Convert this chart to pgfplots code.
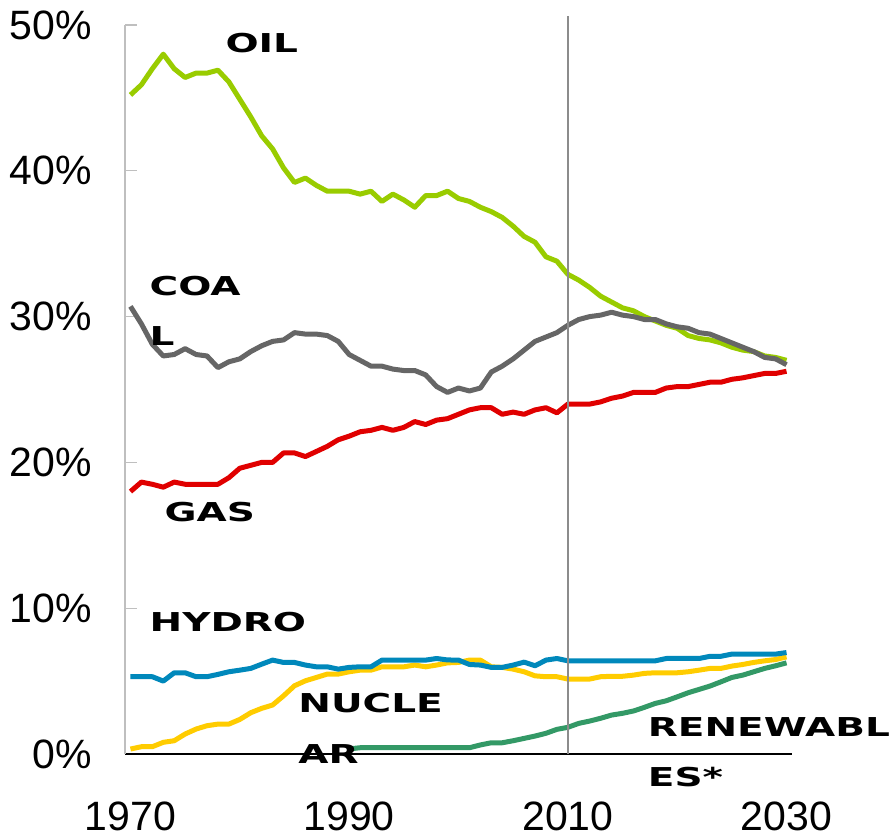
\documentclass[border=0pt]{standalone}
\usepackage{pgfplots}
\pgfplotsset{compat=1.18}
\usepackage{graphicx}
\usepackage{fontspec}
\setmainfont{Liberation Sans}
\newfontfamily\labelfont{DejaVu Sans}
\definecolor{oilc}{HTML}{99CC00}
\definecolor{coalc}{HTML}{666666}
\definecolor{gasc}{HTML}{E00000}
\definecolor{hydroc}{HTML}{0088BB}
\definecolor{nucc}{HTML}{FFCC00}
\definecolor{renc}{HTML}{339966}
\newcommand{\lbl}[1]{\scalebox{1.5}[1]{\labelfont\bfseries #1}}
\begin{document}
\begin{tikzpicture}
\useasboundingbox (0,0) rectangle (895bp,838bp);
\begin{axis}[
  at={(125bp,84bp)}, anchor=south west,
  scale only axis, width=667bp, height=729bp,
  xmin=1969.5, xmax=2030.5, ymin=0, ymax=50,
  axis x line*=bottom, axis y line*=left,
  x axis line style={black, line width=1.3bp, -},
  y axis line style={black!25, line width=1.3bp, -},
  xtick={1970,1990,2010,2030},
  ytick={0,10,20,30,40,50},
  yticklabel={\pgfmathprintnumber{\tick}\%},
  xticklabel style={/pgf/number format/1000 sep={}},
  /pgf/number format/1000 sep={},
  /pgf/number format/assume math mode=true,
  tick label style={font=\fontsize{41bp}{47bp}\selectfont, inner sep=0pt},
  yticklabel style={anchor=east, xshift=-33bp},
  xticklabel style={anchor=north, yshift=-48bp},
  tick align=inside,
  major tick length=12bp,
  ytick style={black!25, line width=1.3bp},
  xtick style={draw=none},
  clip=false,
  every axis plot/.append style={line width=5bp, mark=none, line join=round},
]
\addplot[oilc] coordinates {
(1970,45.2)(1971,45.9)(1972,47.0)(1973,48.0)(1974,47.0)(1975,46.4)(1976,46.7)(1977,46.7)(1978,46.9)(1979,46.1)
(1980,44.9)(1981,43.7)(1982,42.4)(1983,41.5)(1984,40.2)(1985,39.2)(1986,39.5)(1987,39.0)(1988,38.6)(1989,38.6)
(1990,38.6)(1991,38.4)(1992,38.6)(1993,37.9)(1994,38.4)(1995,38.0)(1996,37.5)(1997,38.3)(1998,38.3)(1999,38.6)
(2000,38.1)(2001,37.9)(2002,37.5)(2003,37.2)(2004,36.8)(2005,36.2)(2006,35.5)(2007,35.1)(2008,34.1)(2009,33.8)
(2010,32.9)(2011,32.5)(2012,32.0)(2013,31.4)(2014,31.0)(2015,30.6)(2016,30.4)(2017,30.0)(2018,29.7)(2019,29.4)
(2020,29.2)(2021,28.7)(2022,28.5)(2023,28.4)(2024,28.2)(2025,27.9)(2026,27.7)(2027,27.6)(2028,27.3)(2029,27.2)(2030,27.0)};
\addplot[coalc] coordinates {
(1970,30.7)(1971,29.5)(1972,28.1)(1973,27.3)(1974,27.4)(1975,27.8)(1976,27.4)(1977,27.3)(1978,26.5)(1979,26.9)
(1980,27.1)(1981,27.6)(1982,28.0)(1983,28.3)(1984,28.4)(1985,28.9)(1986,28.8)(1987,28.8)(1988,28.7)(1989,28.3)
(1990,27.4)(1991,27.0)(1992,26.6)(1993,26.6)(1994,26.4)(1995,26.3)(1996,26.3)(1997,26.0)(1998,25.2)(1999,24.8)
(2000,25.1)(2001,24.9)(2002,25.1)(2003,26.2)(2004,26.6)(2005,27.1)(2006,27.7)(2007,28.3)(2008,28.6)(2009,28.9)
(2010,29.4)(2011,29.8)(2012,30.0)(2013,30.1)(2014,30.3)(2015,30.1)(2016,30.0)(2017,29.8)(2018,29.8)(2019,29.5)
(2020,29.3)(2021,29.2)(2022,28.9)(2023,28.8)(2024,28.5)(2025,28.2)(2026,27.9)(2027,27.6)(2028,27.2)(2029,27.1)(2030,26.7)};
\addplot[gasc] coordinates {
(1970,18.0)(1971,18.65)(1972,18.5)(1973,18.3)(1974,18.65)(1975,18.5)(1976,18.5)(1977,18.5)(1978,18.5)(1979,18.95)
(1980,19.6)(1981,19.8)(1982,20.0)(1983,20.0)(1984,20.65)(1985,20.65)(1986,20.4)(1987,20.75)(1988,21.1)(1989,21.55)
(1990,21.8)(1991,22.1)(1992,22.2)(1993,22.4)(1994,22.2)(1995,22.4)(1996,22.8)(1997,22.6)(1998,22.9)(1999,23.0)
(2000,23.3)(2001,23.6)(2002,23.75)(2003,23.75)(2004,23.3)(2005,23.45)(2006,23.3)(2007,23.6)(2008,23.75)(2009,23.4)
(2010,24.0)(2011,24.0)(2012,24.0)(2013,24.15)(2014,24.4)(2015,24.55)(2016,24.8)(2017,24.8)(2018,24.8)(2019,25.1)
(2020,25.2)(2021,25.2)(2022,25.35)(2023,25.5)(2024,25.5)(2025,25.7)(2026,25.8)(2027,25.95)(2028,26.1)(2029,26.1)(2030,26.25)};
\addplot[nucc] coordinates {
(1970,0.34)(1971,0.5)(1972,0.5)(1973,0.8)(1974,0.91)(1975,1.37)(1976,1.71)(1977,1.94)(1978,2.05)(1979,2.05)
(1980,2.37)(1981,2.83)(1982,3.13)(1983,3.36)(1984,3.99)(1985,4.68)(1986,5.02)(1987,5.25)(1988,5.48)(1989,5.48)
(1990,5.64)(1991,5.75)(1992,5.75)(1993,5.98)(1994,5.98)(1995,5.98)(1996,6.1)(1997,5.98)(1998,6.1)(1999,6.25)
(2000,6.28)(2001,6.44)(2002,6.44)(2003,5.98)(2004,5.94)(2005,5.82)(2006,5.64)(2007,5.36)(2008,5.3)(2009,5.3)
(2010,5.14)(2011,5.14)(2012,5.14)(2013,5.3)(2014,5.33)(2015,5.33)(2016,5.41)(2017,5.53)(2018,5.57)(2019,5.57)
(2020,5.57)(2021,5.64)(2022,5.75)(2023,5.87)(2024,5.87)(2025,6.03)(2026,6.14)(2027,6.28)(2028,6.39)(2029,6.48)(2030,6.66)};
\addplot[hydroc] coordinates {
(1970,5.3)(1971,5.3)(1972,5.3)(1973,5.0)(1974,5.57)(1975,5.57)(1976,5.3)(1977,5.3)(1978,5.46)(1979,5.64)
(1980,5.75)(1981,5.87)(1982,6.16)(1983,6.44)(1984,6.28)(1985,6.28)(1986,6.1)(1987,5.98)(1988,5.98)(1989,5.82)
(1990,5.94)(1991,5.98)(1992,5.98)(1993,6.44)(1994,6.44)(1995,6.44)(1996,6.44)(1997,6.44)(1998,6.55)(1999,6.45)
(2000,6.44)(2001,6.14)(2002,6.1)(2003,5.94)(2004,5.94)(2005,6.1)(2006,6.3)(2007,6.05)(2008,6.44)(2009,6.55)
(2010,6.39)(2011,6.39)(2012,6.39)(2013,6.39)(2014,6.39)(2015,6.39)(2016,6.39)(2017,6.39)(2018,6.39)(2019,6.55)
(2020,6.55)(2021,6.55)(2022,6.55)(2023,6.7)(2024,6.7)(2025,6.85)(2026,6.85)(2027,6.85)(2028,6.85)(2029,6.85)(2030,6.96)};
\addplot[renc] coordinates {
(1990,0.35)(1991,0.43)(1992,0.43)(1993,0.43)(1994,0.43)(1995,0.43)(1996,0.43)(1997,0.43)(1998,0.43)(1999,0.43)
(2000,0.43)(2001,0.43)(2002,0.62)(2003,0.77)(2004,0.77)(2005,0.91)(2006,1.07)(2007,1.23)(2008,1.42)(2009,1.69)
(2010,1.83)(2011,2.1)(2012,2.26)(2013,2.45)(2014,2.67)(2015,2.79)(2016,2.95)(2017,3.2)(2018,3.47)(2019,3.65)
(2020,3.92)(2021,4.2)(2022,4.43)(2023,4.66)(2024,4.95)(2025,5.25)(2026,5.41)(2027,5.64)(2028,5.87)(2029,6.05)(2030,6.25)};
\addplot[black!45, line width=1.8bp] coordinates {(2010,0)(2010,50.6)};
\begin{scope}[every node/.style={anchor=west, inner sep=0pt, font=\fontsize{26bp}{30bp}\selectfont}]
\node at (axis cs:1978.68,48.74) {\lbl{OIL}};
\node at (axis cs:1971.74,32.13) {\lbl{COA}};
\node at (axis cs:1971.74,28.70) {\lbl{L}};
\node at (axis cs:1973.1,16.58) {\lbl{GAS}};
\node at (axis cs:1971.74,9.03) {\lbl{HYDRO}};
\node at (axis cs:1985.34,3.50) {\lbl{NUCLE}};
\node at (axis cs:1985.34,-0.03) {\lbl{AR}};
\node at (axis cs:2017.3,1.85) {\lbl{RENEWABL}};
\node at (axis cs:2017.3,-1.61) {\lbl{ES*}};
\end{scope}
\end{axis}
\end{tikzpicture}
\end{document}
